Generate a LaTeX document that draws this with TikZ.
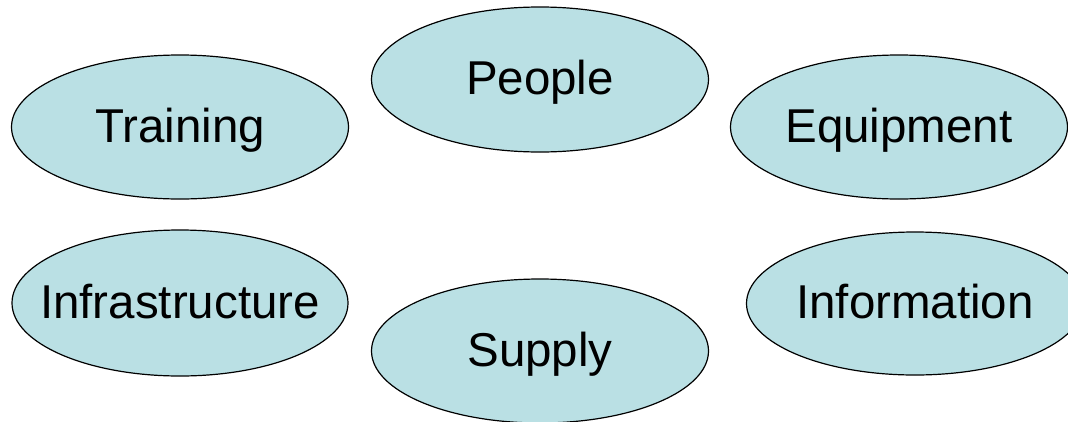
\documentclass[tikz,border=0pt]{standalone}
\usepackage{fontspec}
\setmainfont{Liberation Sans}
\usetikzlibrary{shapes.geometric}
\definecolor{bubblefill}{RGB}{186,224,228}
\newcommand\bubtext[1]{\makebox[0pt]{#1}}
\tikzset{
  bubble/.style={ellipse, draw=black, line width=1.2pt, fill=bubblefill,
    inner sep=0pt, minimum width=337pt, minimum height=144pt,
    font=\fontsize{47.5}{57}\selectfont, text height=34pt, text depth=4pt}
}
\begin{document}
\begin{tikzpicture}[x=1pt,y=-1pt]
\useasboundingbox (0,0) rectangle (1068,421);
\clip (0,0) rectangle (1068,421);
\node[bubble] (training) at (180,127) {\bubtext{Training}};
\node[bubble, minimum height=145pt] (people) at (540,79.5) {\bubtext{People}};
\node[bubble] (equipment) at (899,127) {\bubtext{Equipment}};
\node[bubble, minimum height=146pt, minimum width=336pt] (infra) at (180,303) {\bubtext{Infrastructure}};
\node[bubble] (supply) at (540,351) {\bubtext{Supply}};
\node[bubble, minimum height=143pt] (info) at (915,303.5) {\bubtext{Information}};
\end{tikzpicture}
\end{document}
